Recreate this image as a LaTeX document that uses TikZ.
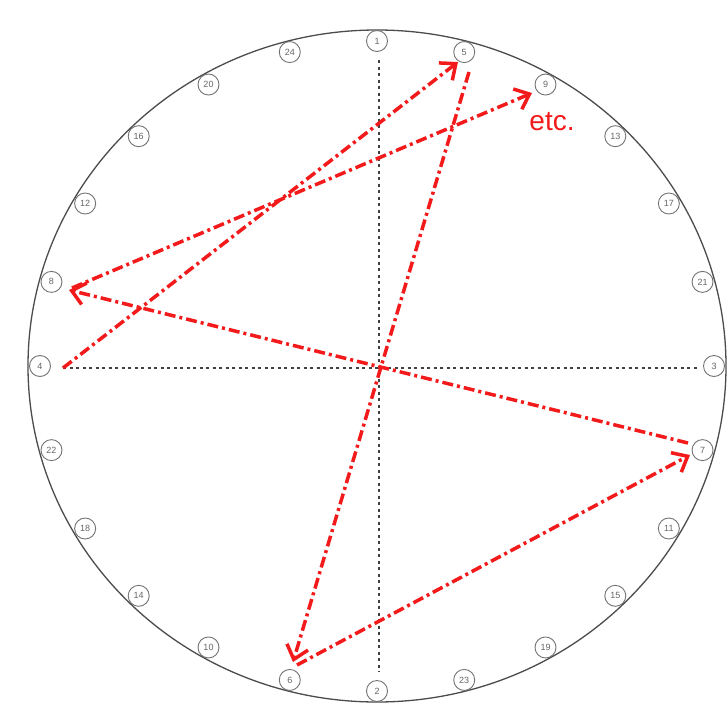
\documentclass[tikz,border=0pt]{standalone}
\usepackage{fontspec}
\setmainfont{Liberation Sans}
\usetikzlibrary{arrows.meta}
\definecolor{arrowred}{HTML}{F21A1A}
\tikzset{
  hole/.style={circle, draw=black!55, line width=0.9pt, minimum size=21pt, inner sep=0pt,
    text=black!60, font=\fontsize{9}{9}\selectfont},
  rim/.style={draw=black!70, line width=1.3pt},
  axisline/.style={draw=black!75, line width=1.7pt, dash pattern=on 3pt off 3.5pt},
  redarrow/.style={draw=arrowred, line width=3.5pt, dash pattern=on 11pt off 4pt on 3pt off 4pt,
    -{Straight Barb[length=13pt,width=22pt,line width=3.5pt]}},
  etclabel/.style={text=arrowred, font=\fontsize{28}{30}\selectfont, inner sep=0pt}
}
\begin{document}
\begin{tikzpicture}[x=1pt,y=-1pt]
\useasboundingbox (0,0) rectangle (728,704);
\fill[white] (0,0) rectangle (728,704);
% outer rim
\draw[rim] (377,366) ellipse [x radius=349pt, y radius=336pt];
% hole labels
\foreach \n/\a in {1/90,5/75,9/60,13/45,17/30,21/15,3/0,7/-15,11/-30,15/-45,19/-60,23/-75,
                   2/-90,6/-105,10/-120,14/-135,18/-150,22/-165,4/180,8/165,12/150,16/135,20/120,24/105}
  \node[hole] (h\n) at ({377+337*cos(\a)},{366-325*sin(\a)}) {\n};
% axes
\coordinate (axL) at (63,368);
\coordinate (axR) at (697,368);
\coordinate (axT) at (379,60);
\coordinate (axB) at (379,672);
\draw[axisline] (axL) -- (axR);
\draw[axisline] (axT) -- (axB);
% tightening sequence
\coordinate (s4) at (63,368);
\coordinate (t5) at (458,62);
\coordinate (s5) at (469,72);
\coordinate (t6) at (293,662);
\coordinate (s6) at (297,665);
\coordinate (t7) at (690,455);
\coordinate (s7) at (688,443);
\coordinate (t8) at (69,290);
\coordinate (s8) at (72,288);
\coordinate (t9) at (532,93);
\draw[redarrow] (s4) -- (t5);
\draw[redarrow] (s5) -- (t6);
\draw[redarrow] (s6) -- (t7);
\draw[redarrow] (s7) -- (t8);
\draw[redarrow] (s8) -- (t9);
\node[etclabel] (etc) at (552,122) {etc.};
\end{tikzpicture}
\end{document}
